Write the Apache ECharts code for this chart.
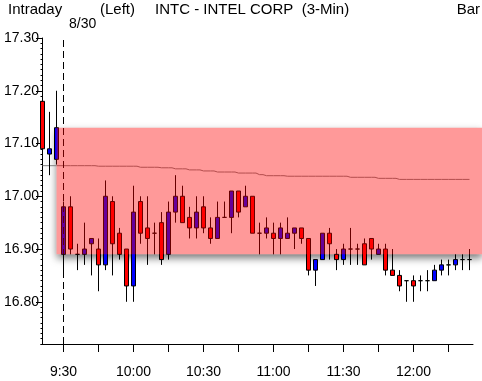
<!DOCTYPE html>
<html><head><meta charset="utf-8">
<script src="https://cdn.jsdelivr.net/npm/echarts@6/dist/echarts.min.js"></script>
<style>html,body{margin:0;padding:0;background:#fff}#c{width:482px;height:381px}</style>
</head><body><div id="c"></div>
<script>
// ---- data ----
const barTimes = ['15:51','15:54','15:57',
 '9:30','9:33','9:36','9:39','9:42','9:45','9:48','9:51','9:54','9:57',
 '10:00','10:03','10:06','10:09','10:12','10:15','10:18','10:21','10:24','10:27',
 '10:30','10:33','10:36','10:39','10:42','10:45','10:48','10:51','10:54','10:57',
 '11:00','11:03','11:06','11:09','11:12','11:15','11:18','11:21','11:24','11:27',
 '11:30','11:33','11:36','11:39','11:42','11:45','11:48','11:51','11:54','11:57',
 '12:00','12:03','12:06','12:09','12:12','12:15','12:18','12:21','12:24'];
const sessionStart = 3;           // index of first bar of the day (9:30)
const sessionDate = '8/30';
const opens  = [17.18,17.08,17.07,
 16.89,16.98,16.89,16.89,16.91,16.90,16.87,16.99,16.93,16.90,
 16.83,16.99,16.94,16.93,16.95,16.89,16.97,17.00,16.96,16.94,
 16.98,16.94,16.92,16.96,16.96,17.01,16.98,17.00,16.93,16.93,
 16.93,16.92,16.92,16.93,16.94,16.92,16.86,16.88,16.93,16.89,
 16.88,16.90,16.90,16.91,16.92,16.89,16.90,16.86,16.85,16.84,
 16.84,16.84,16.84,16.84,16.86,16.87,16.87,16.88,16.88];
const closes = [17.09,17.09,17.13,
 16.98,16.90,16.89,16.90,16.92,16.87,17.00,16.91,16.89,16.83,
 16.97,16.93,16.92,16.93,16.88,16.97,17.00,16.95,16.94,16.97,
 16.94,16.92,16.96,16.96,17.01,16.97,17.00,16.93,16.93,16.94,
 16.92,16.94,16.93,16.94,16.92,16.86,16.88,16.93,16.91,16.88,
 16.90,16.90,16.90,16.87,16.90,16.90,16.86,16.85,16.83,16.84,
 16.83,16.84,16.84,16.86,16.87,16.87,16.88,16.88,16.88];
const lows   = [17.06,17.04,17.06,
 16.85,16.89,16.86,16.87,16.85,16.82,16.86,16.85,16.88,16.80,
 16.80,16.91,16.87,16.89,16.87,16.88,16.95,16.95,16.92,16.92,
 16.93,16.91,16.92,16.96,16.93,16.96,16.98,16.93,16.89,16.92,
 16.89,16.89,16.92,16.90,16.91,16.85,16.83,16.88,16.88,16.86,
 16.87,16.87,16.87,16.87,16.88,16.89,16.85,16.85,16.82,16.80,
 16.80,16.82,16.82,16.84,16.85,16.85,16.86,16.86,16.86];
const highs  = [17.20,17.16,17.20,
 16.99,17.00,16.91,16.95,16.92,16.92,17.03,17.00,16.94,16.90,
 17.02,17.00,17.00,16.95,16.97,16.99,17.04,17.02,16.98,17.00,
 17.00,16.96,16.99,16.99,17.01,17.01,17.02,17.00,16.95,16.96,
 16.95,16.95,16.96,16.94,16.94,16.92,16.88,16.93,16.94,16.90,
 16.91,16.94,16.91,16.92,16.92,16.91,16.91,16.90,16.86,16.84,
 16.85,16.85,16.86,16.87,16.88,16.88,16.89,16.89,16.90];
const avgLine = [17.058,17.058,17.058,
 17.058,17.058,17.058,17.058,17.058,17.057,17.057,17.057,17.057,17.057,
 17.057,17.055,17.055,17.055,17.054,17.054,17.052,17.052,17.050,17.050,
 17.048,17.048,17.046,17.046,17.046,17.044,17.044,17.044,17.041,17.039,
 17.039,17.039,17.038,17.038,17.038,17.038,17.038,17.038,17.038,17.038,
 17.038,17.036,17.036,17.036,17.036,17.034,17.034,17.034,17.032,17.032,
 17.032,17.032,17.032,17.032,17.032,17.032,17.032,17.032,17.032];
const bandTop = 17.13, bandBottom = 16.89, bandStartIdx = 2;
const priceTicks = [16.80,16.90,17.00,17.10,17.20,17.30];
const priceMin = 16.72, priceMax = 17.30;
const titleLeft = 'Intraday', titleMid = '(Left)', titleMain = 'INTC - INTEL CORP  (3-Min)', titleRight = 'Bar';

// ---- chart ----
const FONT = "'Liberation Sans', Arial, sans-serif";
const chart = echarts.init(document.getElementById('c'), null, {renderer:'canvas'});
const candleData = barTimes.map((t,i)=>[i, opens[i], closes[i], lows[i], highs[i]]);
const lineData = barTimes.map((t,i)=>[i, avgLine[i]]);
const minuteOf = i => +barTimes[i].split(':')[1];
const tickIdx = barTimes.map((t,i)=>i).filter(i => i >= sessionStart && minuteOf(i) % 15 === 0);
const labelIdx = tickIdx.filter(i => minuteOf(i) % 30 === 0);
const xMin = sessionStart - 22.5/7, xMax = xMin + 63;
const txt = (size)=>({color:'#000', fontSize:size, fontFamily:FONT, fontWeight:'normal'});

chart.setOption({
  animation:false,
  backgroundColor:'#fff',
  title:[
    {text:titleLeft, left:8, top:2, padding:0, textStyle:txt(15)},
    {text:titleMid, left:100, top:2, padding:0, textStyle:txt(15)},
    {text:titleMain, left:155, top:2, padding:0, textStyle:txt(15)},
    {text:titleRight, right:2, top:2, padding:0, textStyle:txt(15)},
    {text:sessionDate, left:69, top:17, padding:0, textStyle:txt(14)}
  ],
  grid:[{left:41,right:0,top:38,bottom:37},{left:41,right:9,top:38,bottom:37}],
  xAxis:[
    {type:'value', gridIndex:0, min:xMin, max:xMax, axisLine:{show:false}, splitLine:{show:false},
     axisTick:{show:true, customValues:tickIdx, length:8, lineStyle:{color:'#000'}},
     axisLabel:{show:true, customValues:labelIdx, formatter:v=>barTimes[Math.round(v)], margin:21, ...txt(14)}},
    {type:'value', gridIndex:1, min:0, max:1, axisLine:{show:true, onZero:false, lineStyle:{color:'#000'}},
     axisTick:{show:false}, axisLabel:{show:false}, splitLine:{show:false}}
  ],
  yAxis:[
    {type:'value', gridIndex:0, position:'left', min:priceMin, max:priceMax, interval:0.01,
     axisLine:{show:true, lineStyle:{color:'#000'}}, axisTick:{show:true, length:2, lineStyle:{color:'#000'}},
     axisLabel:{show:false}, splitLine:{show:false}},
    {type:'value', gridIndex:0, position:'left', min:priceMin, max:priceMax,
     axisLine:{show:false}, axisTick:{show:true, customValues:priceTicks, length:5, lineStyle:{color:'#000'}},
     axisLabel:{show:true, customValues:priceTicks, formatter:v=>v.toFixed(2), margin:2, ...txt(14)},
     splitLine:{show:false}},
    {type:'value', gridIndex:1, show:false, min:0, max:1}
  ],
  series:[
    {type:'line', xAxisIndex:0, yAxisIndex:0, data:lineData, step:'middle', showSymbol:false, symbol:'none',
     lineStyle:{color:'#808080', width:1}, z:2, silent:true,
     markArea:{silent:true, z:1, label:{show:false},
       itemStyle:{color:'#ffffff', shadowBlur:8, shadowColor:'rgba(0,0,0,0.55)', shadowOffsetY:4},
       data:[[{xAxis:bandStartIdx, yAxis:bandTop},{xAxis:xMax, yAxis:bandBottom}]]}},
    {type:'candlestick', xAxisIndex:0, yAxisIndex:0, data:candleData, barWidth:4, z:3, silent:true,
     itemStyle:{color:'#0000ff', color0:'#ff0000', borderColor:'#000', borderColor0:'#000', borderWidth:1},
     markLine:{silent:true, symbol:['none','none'], label:{show:false},
       lineStyle:{color:'#000', type:[7,4], width:1}, data:[{xAxis:sessionStart}]},
     markArea:{silent:true, z:10, label:{show:false}, itemStyle:{color:'rgba(255,0,0,0.4)'},
       data:[[{xAxis:bandStartIdx, yAxis:bandTop},{xAxis:xMax, yAxis:bandBottom}]]}}
  ]
});
</script></body></html>
